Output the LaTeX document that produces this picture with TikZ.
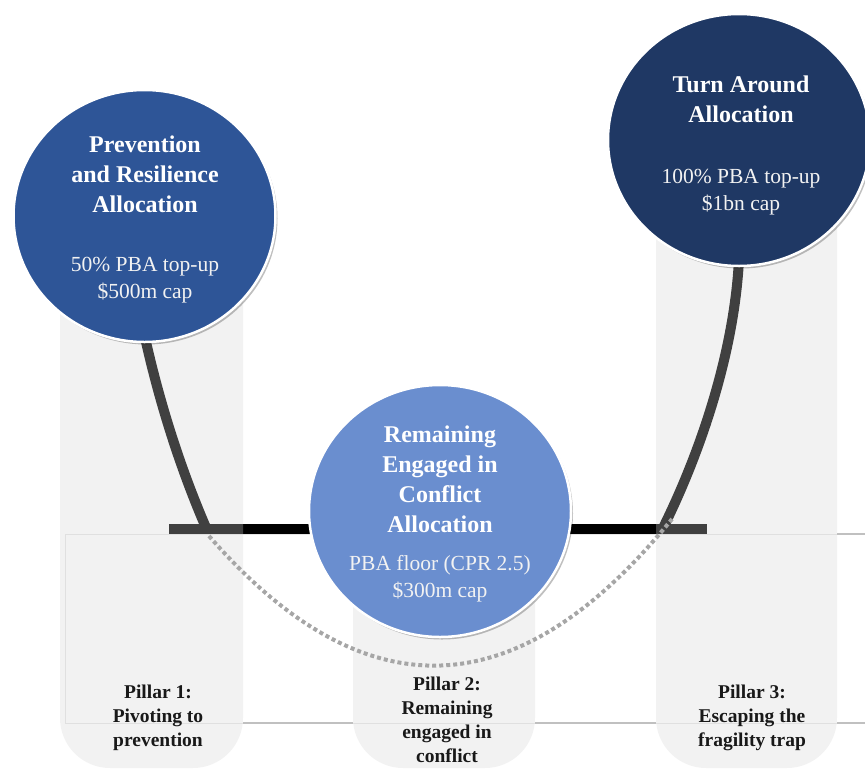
\documentclass[tikz,border=0pt]{standalone}
\usepackage{fontspec}
\setmainfont{Liberation Serif}
\usetikzlibrary{shapes.geometric,shadows}
\definecolor{cA}{HTML}{2E5597}
\definecolor{cB}{HTML}{6A8ECF}
\definecolor{cC}{HTML}{1F3864}
\definecolor{pillarc}{RGB}{212,212,212}
\definecolor{dotc}{HTML}{A6A6A6}
\definecolor{tablec}{HTML}{C0C0C0}
\definecolor{tablefaint}{HTML}{E6E6E6}
\pgfdeclarelayer{back}
\pgfdeclarelayer{mid}
\pgfsetlayers{back,mid,main}
\begin{document}
\begin{tikzpicture}[x=1pt,y=-1pt,
  pillarbox/.style={fill=pillarc, fill opacity=0.3, draw=none, rounded corners=50pt},
  alloc/.style={ellipse, draw=white, line width=2.5pt, minimum width=262pt, minimum height=252pt, inner sep=0pt,
     drop shadow={shadow xshift=2pt, shadow yshift=-2.5pt, opacity=0.25, fill=black}},
  title/.style={text=white, font=\fontsize{24}{30}\selectfont\bfseries, align=center, anchor=base, inner sep=0pt},
  detail/.style={text=white!95!black, font=\fontsize{21.5}{27}\selectfont, align=center, anchor=base, inner sep=0pt},
  pillartext/.style={text=black!90, font=\fontsize{19.5}{24}\selectfont\bfseries, align=center, anchor=base, inner sep=0pt},
  stem/.style={line width=10pt, black},
  barbox/.style={fill=black, draw=none, minimum width=538pt, minimum height=11pt, inner sep=0pt},
  dotline/.style={dotc, line width=4pt, dash pattern=on 4pt off 3pt},
  tableline/.style={tablec, line width=1.2pt},
]
\path[use as bounding box, clip] (0,0) rectangle (865,769);

% circles
\node[alloc, fill=cA] (c1) at (144.5,216) {};
\node[alloc, fill=cB] (c2) at (440,511) {};
\node[alloc, fill=cC] (c3) at (739,140) {};

% circle texts (anchor = baseline of last line)
\node[title] (t1) at (145,212) {Prevention\\and Resilience\\Allocation};
\node[detail] (d1) at (145,298) {50\% PBA top-up\\\$500m cap};
\node[title] (t2) at (440,532) {Remaining\\Engaged in\\Conflict\\Allocation};
\node[detail] (d2) at (440,597) {PBA floor (CPR 2.5)\\\$300m cap};
\node[title] (t3) at (741,122) {Turn Around\\Allocation};
\node[detail] (d3) at (741,210) {100\% PBA top-up\\\$1bn cap};

% pillar texts
\node[pillartext] (p1t) at (158,746) {Pillar 1:\\Pivoting to\\prevention};
\node[pillartext] (p2t) at (447,762) {Pillar 2:\\Remaining\\engaged in\\conflict};
\node[pillartext] (p3t) at (752,746) {Pillar 3:\\Escaping the\\fragility trap};

\begin{pgfonlayer}{back}
  \node[barbox] (bar) at (438,529.5) {};
  \coordinate (j1) at (207,530);
  \coordinate (j3) at (662,530);
  \draw[stem] ([yshift=8pt]c1.south) .. controls (160,405) and (181,470) .. (j1);
  \draw[stem] ([yshift=8pt]c3.south) .. controls (734,358) and (697,460) .. (j3);
\end{pgfonlayer}

\begin{pgfonlayer}{mid}
  \draw[tablefaint, line width=1pt] (65,534) rectangle (875,723);
  \path[pillarbox] (60,200) -- (60,768) -- (243,768) -- (243,200) -- cycle;
  \path[pillarbox] (353,540) -- (353,768) -- (535,768) -- (535,540) -- cycle;
  \path[pillarbox] (656,150) -- (656,768) -- (837,768) -- (837,150) -- cycle;
  \draw[tableline] (243,723) -- (353,723);
  \draw[tableline] (535,723) -- (656,723);
  \draw[tableline] (837,723) -- (865,723);
  \draw[tableline] (837,534) -- (865,534);
  \coordinate (a1) at (209,536);
  \coordinate (a3) at (672,519);
  \draw[dotline] (a1) .. controls (364,714) and (518,709) .. (a3);
\end{pgfonlayer}
\end{tikzpicture}
\end{document}
